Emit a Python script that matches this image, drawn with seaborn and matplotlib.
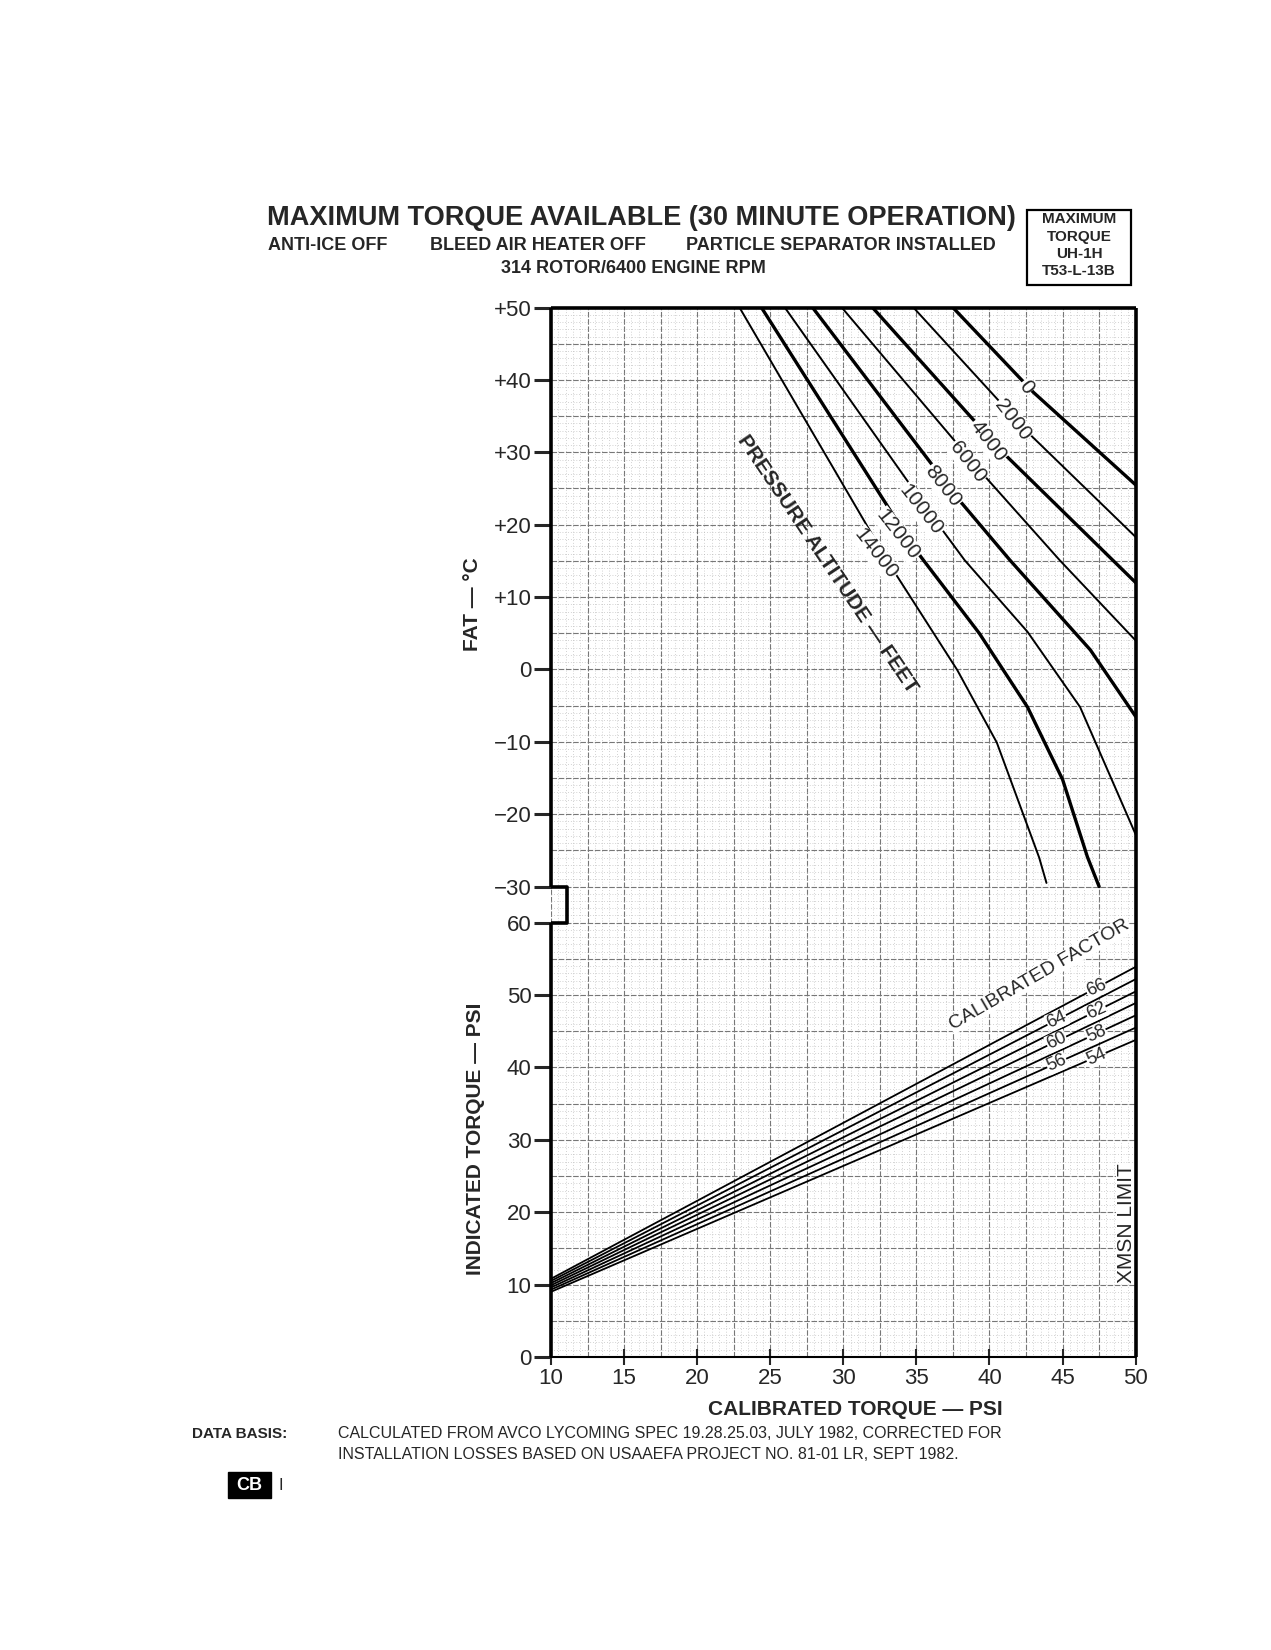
import matplotlib
matplotlib.use("Agg")
import matplotlib.pyplot as plt
import numpy as np
import seaborn as sns
from matplotlib.patches import Rectangle

sns.set_theme(style="white")
plt.rcParams["font.family"] = ["Liberation Sans", "DejaVu Sans"]

# upper panel: FAT (deg C) vs calibrated torque, per pressure altitude
ALTITUDES = [0, 2000, 4000, 6000, 8000, 10000, 12000, 14000]
ALT_X = [
    [37.5, 43.0, 50.0],
    [34.8, 42.6, 50.0],
    [32.0, 40.9, 50.0],
    [29.9, 39.5, 44.8, 50.0],
    [27.9, 37.8, 41.4, 46.9, 50.0],
    [26.0, 36.4, 38.3, 42.6, 46.2, 50.0],
    [24.4, 34.8, 39.3, 42.6, 45.0, 46.7, 47.5],
    [22.9, 33.2, 37.8, 40.5, 43.4, 43.9],
]
ALT_T = [
    [50, 38.3, 25.5],
    [50, 32.8, 18.3],
    [50, 30.0, 12.0],
    [50, 27.1, 15.1, 4.0],
    [50, 23.7, 15.1, 2.7, -6.5],
    [50, 20.3, 15.1, 5.2, -5.2, -22.8],
    [50, 16.9, 5.0, -5.2, -15.2, -25.9, -30.0],
    [50, 14.4, -0.1, -10.1, -26.0, -29.5],
]
ALT_LABEL_XY = [(42.5, 39.0), (41.6, 34.5), (39.9, 31.6), (38.5, 28.7),
                (36.8, 25.3), (35.3, 22.0), (33.7, 18.6), (32.2, 16.0)]

# lower panel: indicated torque vs calibrated torque, per calibrated factor
FACTORS = [66, 64, 62, 60, 58, 56, 54]
CAL_X = [10, 50]
IND_START = [10.8, 10.5, 10.2, 9.9, 9.6, 9.3, 9.0]
IND_END = [53.9, 52.2, 50.5, 48.9, 47.2, 45.5, 43.8]
FACTOR_LABEL_X = [47.3, 44.6, 47.3, 44.6, 47.3, 44.6, 47.3]

UPPER_TICKS = [50, 40, 30, 20, 10, 0, -10, -20, -30]
LOWER_TICKS = [0, 10, 20, 30, 40, 50, 60]
X_TICKS = [10, 15, 20, 25, 30, 35, 40, 45, 50]
OFFSET = 95  # upper panel FAT drawn at FAT + OFFSET on shared axis

fig = plt.figure(figsize=(12.71, 16.5), dpi=100)
ax = fig.add_axes([0.4335, 0.1776, 0.460, 0.636])
ax.set_xlim(10, 50)
ax.set_ylim(0, 145)

# grid
for v in np.arange(10, 50.01, 0.5):
    if abs(v / 2.5 - round(v / 2.5)) < 1e-6:
        ax.axvline(v, color="#777", lw=0.8, ls=(0, (5, 1.5)), zorder=0)
    else:
        ax.axvline(v, color="#aaa", lw=0.5, ls=(0, (1, 3)), zorder=0)
for v in np.arange(0, 145.01, 1):
    if v % 5 == 0:
        ax.axhline(v, color="#777", lw=0.8, ls=(0, (5, 1.5)), zorder=0)
    else:
        ax.axhline(v, color="#aaa", lw=0.5, ls=(0, (1, 3)), zorder=0)

# altitude curves
for i, alt in enumerate(ALTITUDES):
    lw = 2.4 if i % 2 == 0 else 1.4
    ax.plot(ALT_X[i], np.array(ALT_T[i]) + OFFSET, color="black", lw=lw, zorder=3)
    lx, ly = ALT_LABEL_XY[i]
    ax.text(lx, ly + OFFSET, str(alt), rotation=-52, ha="center", va="center",
            fontsize=15, zorder=4,
            bbox=dict(facecolor="white", edgecolor="none", pad=0.5))

# factor lines
for i, f in enumerate(FACTORS):
    ax.plot(CAL_X, [IND_START[i], IND_END[i]], color="black", lw=1.3, zorder=3)
    lx = FACTOR_LABEL_X[i]
    ly = IND_START[i] + (IND_END[i] - IND_START[i]) * (lx - 10) / 40
    ax.text(lx, ly, str(f), rotation=24, ha="center", va="center", fontsize=13,
            zorder=4, bbox=dict(facecolor="white", edgecolor="none", pad=0.3))

ax.text(43.4, 52.8, "CALIBRATED FACTOR", rotation=30, ha="center", va="center",
        fontsize=14, zorder=4, bbox=dict(facecolor="white", edgecolor="none", pad=0.5))
ax.text(28.9, 14.5 + OFFSET, "PRESSURE ALTITUDE — FEET", rotation=-56, ha="center",
        va="center", fontsize=15, fontweight="bold", zorder=4)
ax.text(49.35, 18.5, "XMSN LIMIT", rotation=90, ha="center", va="center",
        fontsize=15, zorder=4, bbox=dict(facecolor="white", edgecolor="none", pad=0.5))

# spines and bracket
for s in ["left", "right", "top", "bottom"]:
    ax.spines[s].set_visible(False)
k = dict(color="black", lw=2.6, clip_on=False, zorder=5, solid_capstyle="butt")
ax.plot([10, 10], [65, 145], **k)
ax.plot([10, 10], [0, 60], **k)
ax.plot([10, 11.1, 11.1, 10], [65, 65, 60, 60], **k)
ax.plot([10, 50], [145, 145], **k)
ax.plot([50, 50], [0, 145], **k)
ax.plot([10, 50], [0, 0], color="black", lw=1.5, clip_on=False, zorder=5)

yt = [t + OFFSET for t in UPPER_TICKS] + LOWER_TICKS
yl = [("+" + str(t)) if t > 0 else ("−" + str(-t) if t < 0 else "0") for t in UPPER_TICKS]
yl += [str(t) for t in LOWER_TICKS]
ax.set_yticks(yt)
ax.set_yticklabels(yl, fontsize=16)
ax.set_xticks(X_TICKS)
ax.set_xticklabels([str(t) for t in X_TICKS], fontsize=16)
ax.tick_params(axis="y", direction="out", length=12, width=2.2, left=True, pad=2)
ax.tick_params(axis="x", direction="inout", length=12, width=1.5, bottom=True, pad=2)

# texts
fig.text(0.21, 0.868, "MAXIMUM TORQUE AVAILABLE (30 MINUTE OPERATION)", fontsize=19.5,
         fontweight="bold", ha="left", va="center")
fig.text(0.211, 0.851, "ANTI-ICE OFF", fontsize=13, fontweight="bold", va="center")
fig.text(0.338, 0.851, "BLEED AIR HEATER OFF", fontsize=13, fontweight="bold", va="center")
fig.text(0.540, 0.851, "PARTICLE SEPARATOR INSTALLED", fontsize=13, fontweight="bold", va="center")
fig.text(0.498, 0.837, "314 ROTOR/6400 ENGINE RPM", fontsize=13, fontweight="bold",
         ha="center", va="center")
fig.patches.append(Rectangle((0.808, 0.827), 0.082, 0.046, transform=fig.transFigure,
                             fill=False, edgecolor="black", lw=1.6))
for i, s in enumerate(["MAXIMUM", "TORQUE", "UH-1H", "T53-L-13B"]):
    fig.text(0.849, 0.867 - i * 0.0105, s, fontsize=11, fontweight="bold",
             ha="center", va="center")

fig.text(0.372, 0.634, "FAT — °C", rotation=90, fontsize=15, fontweight="bold",
         ha="center", va="center")
fig.text(0.374, 0.31, "INDICATED TORQUE — PSI", rotation=90, fontsize=15,
         fontweight="bold", ha="center", va="center")
fig.text(0.673, 0.146, "CALIBRATED TORQUE — PSI", fontsize=15, fontweight="bold",
         ha="center", va="center")
fig.text(0.151, 0.131, "DATA BASIS:", fontsize=11, fontweight="bold", va="center")
fig.text(0.266, 0.131, "CALCULATED FROM AVCO LYCOMING SPEC 19.28.25.03, JULY 1982, CORRECTED FOR",
         fontsize=11.5, va="center")
fig.text(0.266, 0.1185, "INSTALLATION LOSSES BASED ON USAAEFA PROJECT NO. 81-01 LR, SEPT 1982.",
         fontsize=11.5, va="center")
fig.patches.append(Rectangle((0.179, 0.092), 0.034, 0.016, transform=fig.transFigure,
                             facecolor="black", edgecolor="black"))
fig.text(0.196, 0.100, "CB", color="white", fontsize=13, fontweight="bold",
         ha="center", va="center")
fig.text(0.221, 0.100, "I", fontsize=12, ha="center", va="center")

fig.savefig("out.png", dpi=100)
